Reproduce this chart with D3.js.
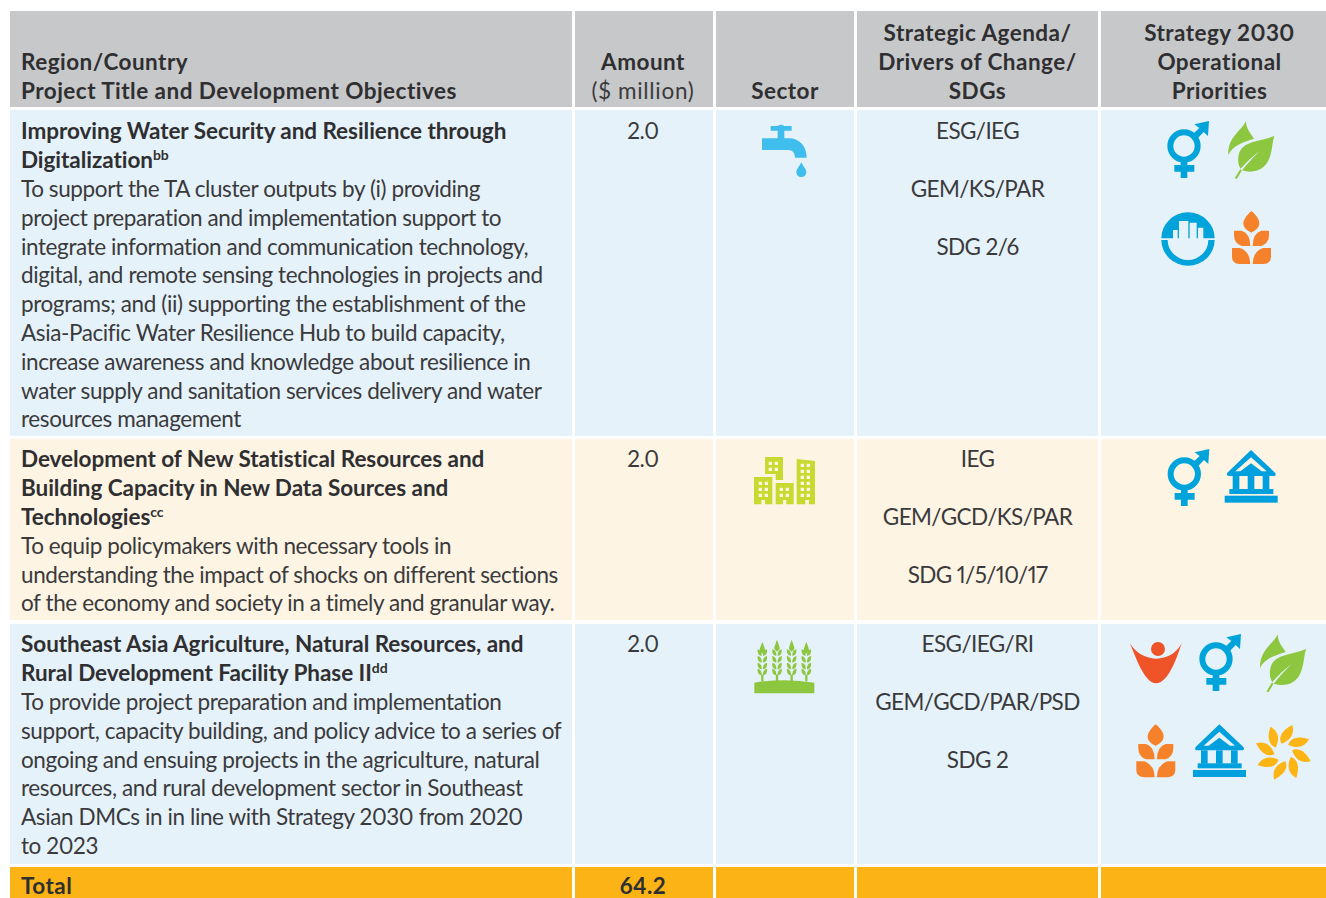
<!DOCTYPE html>
<html>
<head>
<meta charset="utf-8">
<script src="https://cdnjs.cloudflare.com/ajax/libs/d3/7.8.5/d3.min.js"></script>
<style>
html,body{margin:0;padding:0;background:#fff;overflow:hidden;}
svg{display:block;}
text{font-family:"Lato",sans-serif;fill:#3a3a3c;font-size:22.5px;font-feature-settings:"pnum" 1;font-variant-numeric:proportional-nums;}
.h{font-weight:700;fill:#2f2f31;letter-spacing:0.47px;}
.b{font-weight:700;fill:#2f2f31;letter-spacing:-0.05px;}
.r{letter-spacing:-0.4px;}
.c{letter-spacing:-0.6px;}
.w{letter-spacing:0.7px;}
</style>
</head>
<body>
<div id="chart"></div>
<script>

// table content
var headers = [
	["Region/Country", "Project Title and Development Objectives"],
	["Amount", "($ million)"],
	["Sector"],
	["Strategic Agenda/", "Drivers of Change/", "SDGs"],
	["Strategy 2030", "Operational", "Priorities"]
];
var titles = [
	["Improving Water Security and Resilience through", "Digitalization"],
	["Development of New Statistical Resources and", "Building Capacity in New Data Sources and", "Technologies"],
	["Southeast Asia Agriculture, Natural Resources, and", "Rural Development Facility Phase II"]
];
var notes = ["bb", "cc", "dd"];
var objectives = [
	["To support the TA cluster outputs by (i) providing",
	 "project preparation and implementation support to",
	 "integrate information and communication technology,",
	 "digital, and remote sensing technologies in projects and",
	 "programs; and (ii) supporting the establishment of the",
	 "Asia-Pacific Water Resilience Hub to build capacity,",
	 "increase awareness and knowledge about resilience in",
	 "water supply and sanitation services delivery and water",
	 "resources management"],
	["To equip policymakers with necessary tools in",
	 "understanding the impact of shocks on different sections",
	 "of the economy and society in a timely and granular way."],
	["To provide project preparation and implementation",
	 "support, capacity building, and policy advice to a series of",
	 "ongoing and ensuing projects in the agriculture, natural",
	 "resources, and rural development sector in Southeast",
	 "Asian DMCs in in line with Strategy 2030 from 2020",
	 "to 2023"]
];
var amounts = ["2.0", "2.0", "2.0"];
var agendas = [
	["ESG/IEG", "GEM/KS/PAR", "SDG 2/6"],
	["IEG", "GEM/GCD/KS/PAR", "SDG 1/5/10/17"],
	["ESG/IEG/RI", "GEM/GCD/PAR/PSD", "SDG 2"]
];
var totalLabel = "Total";
var totalAmount = "64.2";

// layout
var W = 1326, H = 898;
var colEdges = [[10,572],[575,713],[716,854],[857,1098],[1101,1326]];
var headCenters = [0,643,785,977.5,1219.5];
var rowEdges = [[110,436],[439,620],[624,864]];
var rowBase = [139.4,467.3,652.3];
var rowFill = ["#e6f2fa","#fdf4e3","#e6f2fa"];
var lineH = 28.8;
var textX = 21;

var svg = d3.select("#chart").append("svg").attr("width",W).attr("height",H);

function cx(i){ return (colEdges[i][0]+colEdges[i][1])/2; }

// HEADER
colEdges.forEach(function(c,i){
	svg.append("rect").attr("x",c[0]).attr("y",11).attr("width",c[1]-c[0]).attr("height",96).attr("fill","#c7c8ca");
	var lines = headers[i];
	lines.forEach(function(t,j){
		var y = 99-(lines.length-1-j)*lineH;
		var el = svg.append("text").attr("y",y).text(t);
		if (i==0) el.attr("x",textX); else el.attr("x",headCenters[i]).attr("text-anchor","middle");
		el.attr("class", (i==1 && j==1) ? "w" : "h");
	});
});

// BODY ROWS
rowEdges.forEach(function(r,k){
	colEdges.forEach(function(c){
		svg.append("rect").attr("x",c[0]).attr("y",r[0]).attr("width",c[1]-c[0]).attr("height",r[1]-r[0]).attr("fill",rowFill[k]);
	});
	var base = rowBase[k];
	var yLine = d3.scaleLinear().domain([0,1]).range([base,base+lineH]);

	titles[k].forEach(function(t,j){
		var el = svg.append("text").attr("class","b").attr("x",textX).attr("y",yLine(j)).text(t);
		if (j==titles[k].length-1){
			el.append("tspan").attr("dy",-8).style("font-size","14px").text(notes[k]);
		}
	});
	objectives[k].forEach(function(t,j){
		svg.append("text").attr("class","r").attr("x",textX).attr("y",yLine(j+titles[k].length)).text(t);
	});
	svg.append("text").attr("class","r").attr("x",cx(1)-1).attr("y",yLine(0)).attr("text-anchor","middle").text(amounts[k]);
	agendas[k].forEach(function(t,j){
		svg.append("text").attr("class","c").attr("x",cx(3)).attr("y",yLine(j*2)).attr("text-anchor","middle").text(t);
	});
});

// TOTAL
colEdges.forEach(function(c){
	svg.append("rect").attr("x",c[0]).attr("y",867).attr("width",c[1]-c[0]).attr("height",H-867).attr("fill","#fbb316");
});
svg.append("text").attr("class","h").attr("x",textX).attr("y",894).text(totalLabel);
svg.append("text").attr("class","h").attr("x",cx(1)-1).attr("y",894).attr("text-anchor","middle").text(totalAmount);

/*
 *	ICONS (drawn at 3x, placed with scale 1/3)
 */
function icon(x,y){
	return svg.append("g").attr("transform","translate("+x+","+y+") scale(0.3333)");
}

function tap(g){
	g.append("path").attr("fill","#3fbdec")
		.attr("d","M92 48 L113 48 Q122 40 133 48 L155 48 L155 62 L133 62 L133 85 L150 85 C180 87 200 110 200 143 L165 143 C165 130 158 120 145 120 L66 120 L66 85 L113 85 L113 62 L92 62 Z");
	g.append("path").attr("fill","#3fbdec")
		.attr("d","M184 157 C190 170 199 178 199 186 C199 195 192 201 184 201 C176 201 169 195 169 186 C169 178 178 170 184 157 Z");
}

function city(g){
	var p = "M42 96 L97 96 L97 178 L75 178 L75 165 L64 165 L64 178 L42 178 Z ";
	p += "M75 36 L129 36 L129 105 L107 105 L107 87 L75 87 Z ";
	p += "M107 114 L161 114 L161 178 L139 178 L139 165 L129 165 L129 178 L107 178 Z ";
	p += "M170 42 L225 48 L225 178 L207 178 L207 165 L196 165 L196 178 L170 178 Z ";
	function win(x,y){ p += "M"+x+" "+y+" h10 v10 h-10 Z "; }
	[110,128,146].forEach(function(y){ win(56,y); win(74,y); });
	[50,68].forEach(function(y){ win(86,y); win(104,y); });
	[128,146].forEach(function(y){ win(119,y); win(137,y); });
	[56,74,92,110,128,146].forEach(function(y){ win(182,y); win(200,y); });
	g.append("path").attr("fill","#c8d92f").attr("fill-rule","evenodd").attr("d",p);
}

function field(g){
	var green = "#8dc63f";
	g.append("path").attr("fill",green).attr("d","M43 158 Q133 143 223 158 L223 190 L43 190 Z");
	[[67,35],[111,29],[155,29],[199,35]].forEach(function(s){
		var st = g.append("g").attr("transform","translate("+s[0]+",0)");
		st.append("rect").attr("x",-3.5).attr("y",134).attr("width",7).attr("height",20).attr("fill",green);
		st.append("path").attr("fill",green)
			.attr("d","M0 "+s[1]+" C4 "+(s[1]+12)+" 9 "+(s[1]+22)+" 8 "+(s[1]+28)+" L0 "+(s[1]+36)+" L-8 "+(s[1]+28)+" C-9 "+(s[1]+22)+" -4 "+(s[1]+12)+" 0 "+s[1]+" Z");
		[62,82,102,120].forEach(function(y){
			st.append("path").attr("fill",green).attr("d","M-2 "+(y+16)+" C-14 "+(y+14)+" -15 "+(y+4)+" -14 "+(y-4)+" C-5 "+(y-2)+" -1 "+(y+5)+" -2 "+(y+16)+" Z");
			st.append("path").attr("fill",green).attr("d","M2 "+(y+16)+" C14 "+(y+14)+" 15 "+(y+4)+" 14 "+(y-4)+" C5 "+(y-2)+" 1 "+(y+5)+" 2 "+(y+16)+" Z");
		});
	});
}

function gender(g){
	var blue = "#00a4db";
	g.append("circle").attr("cx",132).attr("cy",108).attr("r",41).attr("fill","none").attr("stroke",blue).attr("stroke-width",18);
	g.append("path").attr("fill",blue).attr("d","M122 150 L142 150 L142 165 L163 165 L163 185 L142 185 L142 204 L122 204 L122 185 L103 185 L103 165 L122 165 Z");
	g.append("path").attr("fill",blue).attr("d","M163 43 L207 33 L204 78 L191 66 L172 86 L158 73 L178 54 Z");
}

function leaf(g){
	var green = "#8dc63f";
	g.append("path").attr("fill",green).attr("d","M318 33 C305 62 262 82 265 135 C275 108 310 96 342 86 C332 70 318 56 318 33 Z");
	g.append("path").attr("fill",green).attr("fill-rule","evenodd")
		.attr("d","M403 77 C362 96 306 90 296 135 C292 153 296 168 302 176 C320 155 340 138 360 122 C342 140 322 160 306 181 C340 192 376 180 388 145 C398 120 396 98 403 77 Z");
	g.append("path").attr("fill",green).attr("d","M284 205 L301 177 L305 182 L291 206 Z");
}

function hand(g){
	var blue = "#00a4db";
	g.append("path").attr("fill",blue).attr("fill-rule","evenodd")
		.attr("d","M64 385 A80 78 0 0 1 224 385 Z M99 385 L99 360 L113 360 L113 385 Z M117 385 L117 333 L145 333 L145 385 Z M149 385 L149 338 L170 338 L170 385 Z M174 385 L174 353 L190 353 L190 385 Z");
	g.append("path").attr("fill",blue)
		.attr("d","M64 390 L83 390 A61 60 0 0 0 205 390 L224 390 A80 77 0 0 1 64 390 Z");
}

function wheat(g){
	var o = "#f5822a";
	g.append("path").attr("fill",o).attr("d","M334 303 C350 315 358 330 358 340 C358 354 345 362 334 368 C322 362 310 354 310 340 C310 330 320 315 334 303 Z");
	[1,-1].forEach(function(s){
		var h = g.append("g").attr("transform", s<0 ? "translate(669,0) scale(-1,1)" : null);
		h.append("path").attr("fill",o).attr("d","M282 362 L305 362 Q331 370 331 408 L305 408 Q282 400 282 375 Z");
		h.append("path").attr("fill",o).attr("d","M276 414 L300 414 Q331 425 331 462 L298 462 Q276 460 276 440 Z");
	});
}

function person(g){
	var red = "#ef5428";
	g.append("circle").attr("cx",114).attr("cy",72).attr("r",21).attr("fill",red);
	g.append("path").attr("fill",red).attr("d","M30 55 C50 90 85 101 110 101 C140 101 170 85 185 55 C170 100 145 175 108 175 C75 175 50 105 30 55 Z");
}

function bank(g){
	var blue = "#00a0de";
	g.append("path").attr("fill",blue).attr("fill-rule","evenodd")
		.attr("d","M298 298 L370 366 Q376 376 365 376 L232 376 Q222 376 227 366 Z M298 320 L345 362 L330 362 L298 338 L266 362 L251 362 Z");
	[243,288,333].forEach(function(x){
		g.append("rect").attr("x",x).attr("y",376).attr("width",20).attr("height",40).attr("fill",blue);
	});
	g.append("rect").attr("x",233).attr("y",415).attr("width",132).attr("height",15).attr("fill",blue);
	g.append("rect").attr("x",219).attr("y",435).attr("width",159).attr("height",21).attr("fill",blue);
}

function sun(g){
	d3.range(8).forEach(function(i){
		g.append("path").attr("fill","#fdb515")
			.attr("transform","translate(490,382) rotate("+(i*45)+")")
			.attr("d","M-6 -26 C-14 -44 -8 -64 27 -82 C34 -58 25 -37 -6 -26 Z");
	});
}

tap(icon(740,110));
gender(icon(1140,110));
leaf(icon(1140,110));
hand(icon(1140,110));
wheat(icon(1140,110));

city(icon(740,445));
gender(icon(1140.3,438));
bank(icon(1151.7,350.7));

field(icon(740,630));
person(icon(1120,625));
gender(icon(1172,623));
leaf(icon(1171.7,623.3));
wheat(icon(1044.3,623.3));
bank(icon(1120,625));
sun(icon(1120,625));

</script>
</body>
</html>
